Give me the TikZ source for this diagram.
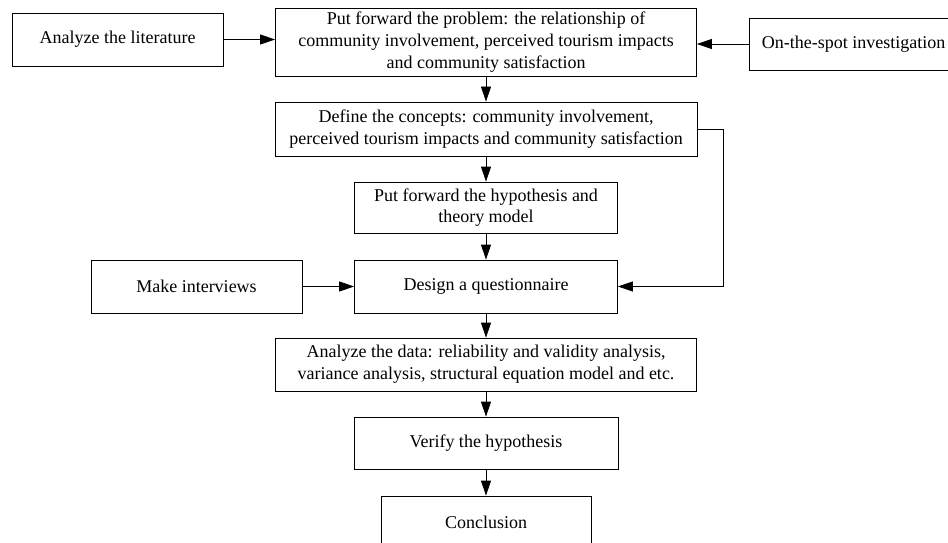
\documentclass[tikz,border=0pt]{standalone}
\usepackage{fontspec}
\setmainfont{Liberation Serif}
\usetikzlibrary{arrows.meta,calc}
\tikzset{
  box/.style={draw=black, line width=0.8pt, rectangle, inner sep=0pt, align=center,
    font=\fontsize{18}{21.7}\selectfont},
  arr/.style={draw=black, line width=0.8pt, -{Triangle[length=15pt,width=10pt]}}
}
\begin{document}
\begin{tikzpicture}[x=1pt,y=-1pt]
\clip (0,0) rectangle (948,543);
\fill[white] (0,0) rectangle (948,543);
\node[box, minimum width=421pt, minimum height=68pt] (top) at (486,42)
  {Put forward the problem: the relationship of\\community involvement, perceived tourism impacts\\and community satisfaction};
\node[box, minimum width=211pt, minimum height=53pt] (lit) at (117.5,39.5) {Analyze the literature};
\node[box, minimum width=209pt, minimum height=52pt] (spot) at (853.5,44) {On-the-spot investigation};
\node[box, minimum width=422pt, minimum height=54pt] (define) at (486,129)
  {Define the concepts: community involvement,\\perceived tourism impacts and community satisfaction};
\node[box, minimum width=263pt, minimum height=51pt] (hyp) at (486,207.5)
  {Put forward the hypothesis and\\theory model};
\node[box, minimum width=263pt, minimum height=53pt] (design) at (486,286.5) {Design a questionnaire};
\node[box, minimum width=211pt, minimum height=53pt] (interv) at (196.5,286.5) {Make interviews};
\node[box, minimum width=421pt, minimum height=53pt] (data) at (486,364.5)
  {Analyze the data: reliability and validity analysis,\\variance analysis, structural equation model and etc.};
\node[box, minimum width=264pt, minimum height=52pt] (verify) at (486,443) {Verify the hypothesis};
\node[box, minimum width=210pt, minimum height=52pt] (concl) at (486,522) {Conclusion};
\draw[arr] (lit.east) -- (lit.east -| top.west);
\draw[arr] (spot.west) -- (spot.west -| top.east);
\draw[arr] (top) -- (define);
\draw[arr] (define) -- (hyp);
\draw[arr] (hyp) -- (design);
\draw[arr] (interv) -- (design);
\draw[arr] (design) -- (data);
\draw[arr] (data) -- (verify);
\draw[arr] (verify) -- (concl);
\coordinate (bend) at ($(define.east)+(26,0)$);
\draw[arr] (define.east) -- (bend) |- (design.east);
\end{tikzpicture}
\end{document}
